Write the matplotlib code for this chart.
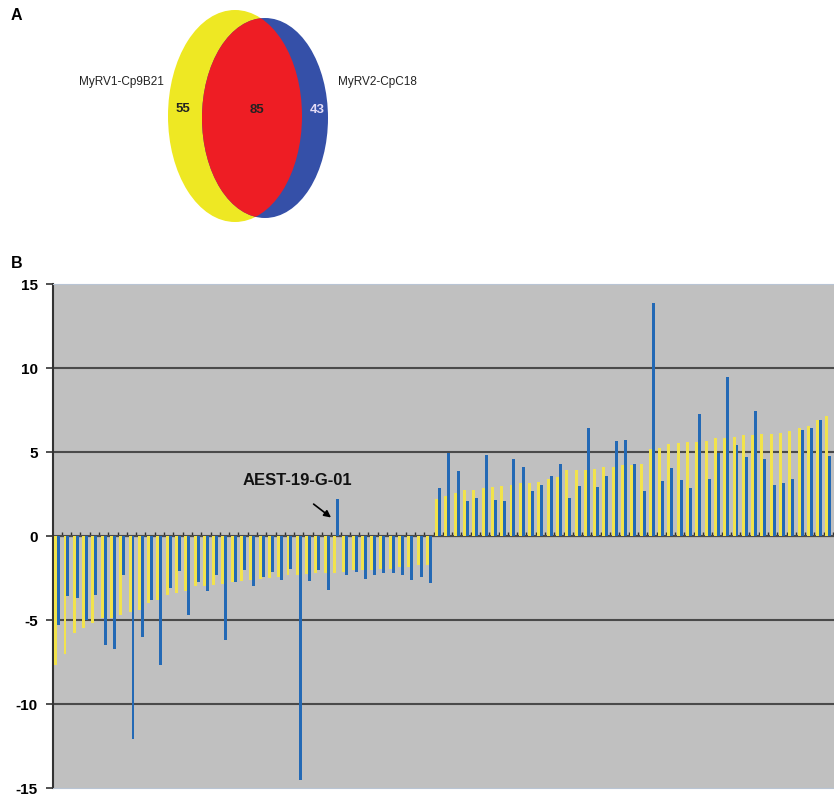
import matplotlib
matplotlib.use("Agg")
import matplotlib.pyplot as plt
from matplotlib.patches import Ellipse
import numpy as np

plt.rcParams['font.family'] = ['Liberation Sans', 'DejaVu Sans']
plt.rcParams['axes.unicode_minus'] = False

# panel A: gene counts
only_myrv1 = 55
shared = 85
only_myrv2 = 43
label_myrv1 = "MyRV1-Cp9B21"
label_myrv2 = "MyRV2-CpC18"

# panel B: paired values per gene (yellow / blue)
yellow_values = [
    -7.65, -7.0, -5.8, -5.5, -5.2, -4.9, -4.9, -4.7, -4.5, -4.4,
    -4.0, -3.8, -3.5, -3.4, -3.3, -3.0, -3.0, -2.9, -2.85, -2.75,
    -2.65, -2.6, -2.55, -2.5, -2.45, -2.35, -2.35, -2.25, -2.2, -2.2,
    -2.2, -2.15, -2.05, -2.05, -2.05, -1.95, -1.95, -1.85, -1.85, -1.75,
    -1.75,
    2.2, 2.36, 2.58, 2.75, 2.76, 2.84, 2.89, 2.97, 3.04, 3.13,
    3.14, 3.23, 3.4, 3.5, 3.92, 3.92, 3.92, 4.0, 4.12, 4.12,
    4.2, 4.2, 4.3, 5.15, 5.25, 5.45, 5.55, 5.6, 5.6, 5.66,
    5.82, 5.82, 5.9, 6.02, 6.02, 6.09, 6.09, 6.15, 6.25, 6.45,
    6.54, 6.93, 7.13,
]
blue_values = [
    -5.3, -3.6, -3.7, -5.0, -3.5, -6.5, -6.7, -2.3, -12.1, -6.0,
    -3.8, -7.65, -3.1, -2.1, -4.7, -2.75, -3.3, -2.35, -6.2, -2.75,
    -2.05, -3.0, -2.45, -2.15, -2.6, -1.95, -14.5, -2.65, -2.05, -3.2,
    2.2, -2.35, -2.15, -2.55, -2.35, -2.2, -2.2, -2.3, -2.6, -2.45,
    -2.8,
    2.83, 4.92, 3.86, 2.06, 2.26, 4.85, 2.15, 2.08, 4.6, 4.1,
    2.65, 3.04, 3.58, 4.26, 2.29, 2.98, 6.43, 2.9, 3.59, 5.65,
    5.7, 4.27, 2.7, 13.84, 3.25, 4.04, 3.33, 2.84, 7.26, 3.42,
    4.92, 9.47, 5.43, 4.69, 7.42, 4.59, 3.03, 3.16, 3.42, 6.29,
    6.45, 6.88, 4.79,
]
highlight_gene = "AEST-19-G-01"
highlight_index = 30
y_ticks = [-15, -10, -5, 0, 5, 10, 15]

yellow = '#F2E34C'
blue = '#2369B5'

fig = plt.figure(figsize=(8.34, 8.01), dpi=100)

# ---- panel A (venn), drawn in pixel units ----
venn = fig.add_axes([0, 1 - 240 / 801, 1, 240 / 801])
venn.set_xlim(0, 834)
venn.set_ylim(240, 0)
venn.axis('off')

left = Ellipse((235, 116), 134, 212, facecolor='#EEE823', edgecolor='none')
right = Ellipse((265, 118), 126, 200, facecolor='#3550A8', edgecolor='none')
venn.add_patch(left)
venn.add_patch(right)
middle = Ellipse((265, 118), 126, 200, facecolor='#EE1D24', edgecolor='none')
venn.add_patch(middle)
middle.set_clip_path(left)

venn.text(183, 109, str(only_myrv1), fontsize=9.5, fontweight='bold', ha='center', va='center', color='#222222')
venn.text(257, 110, str(shared), fontsize=9.5, fontweight='bold', ha='center', va='center', color='#222222')
venn.text(317, 110, str(only_myrv2), fontsize=9.5, fontweight='bold', ha='center', va='center', color='#E4DCF6')
venn.text(164, 82, label_myrv1, fontsize=8.5, ha='right', va='center', color='#222222')
venn.text(338, 82, label_myrv2, fontsize=8.5, ha='left', va='center', color='#222222')
fig.text(11 / 834, 1 - 16 / 801, "A", fontsize=11.5, fontweight='heavy', va='center')
fig.text(11 / 834, 1 - 264 / 801, "B", fontsize=11.5, fontweight='heavy', va='center')

# ---- panel B (bars) ----
ax = fig.add_axes([53 / 834, 13 / 801, 781 / 834, 504 / 801])
ax.set_facecolor('#C0C0C0')
x = np.arange(len(yellow_values))
w = 0.32
ax.bar(x - w / 2, yellow_values, width=w, color=yellow, zorder=3)
ax.bar(x + w / 2, blue_values, width=w, color=blue, zorder=3)

ax.set_ylim(-15, 15)
ax.set_xlim(-0.45, len(x) - 0.4)
ax.set_yticks(y_ticks)
for t in y_ticks[1:-1]:
    ax.axhline(t, color='#4A4A4A', lw=1.5, zorder=1)
ax.tick_params(axis='y', direction='out', length=5, width=1.2, color='#333333', labelsize=11, pad=6)
for lab in ax.get_yticklabels():
    lab.set_fontweight('bold')
ax.set_xticks([])

ax.spines['left'].set_color('#333333')
ax.spines['left'].set_linewidth(1.5)
ax.spines['right'].set_visible(False)
ax.spines['top'].set_color('#B8C4D4')
ax.spines['bottom'].set_color('#B8C4D4')

# category axis through zero
zero_axis = ax.secondary_xaxis(0.5)
zero_axis.set_xticks(np.arange(len(x) + 1) - 0.5)
zero_axis.set_xticklabels([])
zero_axis.tick_params(direction='out', length=3, width=1, color='#333333')
zero_axis.spines['bottom'].set_color('#333333')
zero_axis.spines['bottom'].set_linewidth(1.3)

hx = highlight_index + w / 2
ax.text(hx - 4.3, 3.3, highlight_gene, fontsize=12, fontweight='bold', ha='center', va='center', color='#111111')
ax.annotate('', xy=(hx - 0.45, 1.0), xytext=(hx - 2.8, 2.0),
            arrowprops=dict(arrowstyle='-|>', color='black', lw=1.2, mutation_scale=10))

fig.savefig('out.png', dpi=100)
